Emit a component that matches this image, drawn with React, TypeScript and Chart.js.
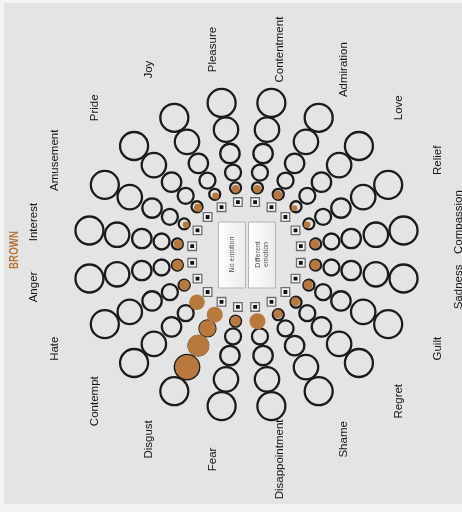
import React, { useEffect, useRef } from "react";
import { Chart, registerables } from "chart.js";

Chart.register(...registerables);

// ---- data ----
const emotions = [
  "Interest", "Amusement", "Pride", "Joy", "Pleasure", "Contentment", "Admiration", "Love", "Relief", "Compassion",
  "Sadness", "Guilt", "Regret", "Shame", "Disappointment", "Fear", "Disgust", "Contempt", "Hate", "Anger",
];
// spoke direction of each emotion, degrees counter-clockwise from the right
const spokeAngles = [171, 153, 135, 117, 99, 81, 63, 45, 27, 9, -9, -27, -45, -63, -81, -99, -117, -135, -153, -171];
// brown response bubbles (radius) per intensity level, innermost (1) to outermost (5)
const fillLevel1 = [4.6, 3.2, 4, 3.4, 4, 4, 4.5, 3, 3.3, 4.7, 5, 4.7, 4.5, 4.5, 8, 5.3, 8, 7.8, 5.2, 5.3];
const fillLevel2 = [0, 0, 0, 0, 0, 0, 0, 0, 0, 0, 0, 0, 0, 0, 0, 0, 8.3, 0, 0, 0];
const fillLevel3 = [0, 0, 0, 0, 0, 0, 0, 0, 0, 0, 0, 0, 0, 0, 0, 0, 10.8, 0, 0, 0];
const fillLevel4 = [0, 0, 0, 0, 0, 0, 0, 0, 0, 0, 0, 0, 0, 0, 0, 0, 12, 0, 0, 0];
const fillLevel5 = [0, 0, 0, 0, 0, 0, 0, 0, 0, 0, 0, 0, 0, 0, 0, 0, 0, 0, 0, 0];
const seriesName = "BROWN";
const centerOptions = ["No emotion", "Different\nemotion"];

// ---- layout / style constants ----
const W = 462;
const H = 512;
const CX = 246.5;
const CY = 254.5;
const YSCALE = 0.965;
const LEVEL_DIST = [70, 86, 106, 131, 159];
const RING_R = [5.5, 8, 9.7, 12.2, 14];
const RING_BW = 2.3;
const SQUARE_R = 6.1;
const SQUARE_BW = 1.3;
const SQUARE_DIST = 55;
const LABEL_DIST = 215;
const BROWN = "#b7793d";

const rad = (d: number) => (d * Math.PI) / 180;

// Chart.js insets the chart area by the largest bubble (radius + border); compensate
const allFills = [fillLevel1, fillLevel2, fillLevel3, fillLevel4, fillLevel5].flat();
const PAD = Math.max(Math.max(...RING_R) + RING_BW, Math.max(...allFills), SQUARE_R + SQUARE_BW);

const wheelPlugin = {
  id: "wheelDecor",
  beforeDraw(chart: any) {
    const { ctx, width, height } = chart;
    ctx.save();
    ctx.fillStyle = "#f3f3f3";
    ctx.fillRect(0, 0, width, height);
    ctx.fillStyle = "#e4e4e4";
    ctx.fillRect(4, 3, width - 4, height - 11);
    ctx.restore();
  },
  afterDatasetsDraw(chart: any) {
    const { ctx } = chart;
    const xs = chart.scales.x;
    const ys = chart.scales.y;
    const px = (v: number) => xs.getPixelForValue(v);
    const py = (v: number) => ys.getPixelForValue(v);

    // emotion labels
    emotions.forEach((name, i) => {
      const a = rad(spokeAngles[i]);
      const lx = px(LABEL_DIST * Math.cos(a));
      const ly = py(LABEL_DIST * Math.sin(a));
      ctx.save();
      ctx.translate(lx, ly);
      ctx.rotate(-Math.PI / 2);
      ctx.font = '11.5px "Liberation Sans", Arial, sans-serif';
      ctx.fillStyle = "#161616";
      ctx.textAlign = "center";
      ctx.textBaseline = "middle";
      ctx.fillText(name, 0, 0);
      ctx.restore();
    });

    // series name
    ctx.save();
    ctx.translate(px(-CX + 14.5), py(4.5 / YSCALE));
    ctx.rotate(-Math.PI / 2);
    ctx.scale(0.72, 1);
    ctx.font = 'bold 13.5px "Liberation Sans", Arial, sans-serif';
    ctx.fillStyle = "#bb7636";
    ctx.textAlign = "center";
    ctx.textBaseline = "middle";
    ctx.fillText(seriesName, 0, 0);
    ctx.restore();

    // center option boxes
    const cx = px(0);
    const cy = py(0);
    centerOptions.forEach((txt, i) => {
      const left = i === 0 ? cx - 28.5 : cx + 1.5;
      const top = cy - 33;
      const bw = 27;
      const bh = 66;
      ctx.save();
      const g = ctx.createLinearGradient(left, 0, left + bw, 0);
      g.addColorStop(0, "#ffffff");
      g.addColorStop(1, "#ececec");
      ctx.fillStyle = g;
      ctx.strokeStyle = "#b4b4b4";
      ctx.lineWidth = 1;
      ctx.beginPath();
      ctx.rect(left + 0.5, top + 0.5, bw, bh);
      ctx.fill();
      ctx.stroke();
      ctx.translate(left + bw / 2 + 0.5, top + bh / 2);
      ctx.rotate(-Math.PI / 2);
      ctx.font = '7px "Liberation Sans", Arial, sans-serif';
      ctx.fillStyle = "#555";
      ctx.textAlign = "center";
      ctx.textBaseline = "middle";
      const lines = txt.split("\n");
      lines.forEach((ln, k) => {
        ctx.fillText(ln, 0, (k - (lines.length - 1) / 2) * 8);
      });
      ctx.restore();
    });
  },
};

export default function App() {
  const ref = useRef<HTMLCanvasElement | null>(null);

  useEffect(() => {
    document.body.style.margin = "0";
    const canvas = ref.current;
    if (!canvas) return;

    const levels = [fillLevel1, fillLevel2, fillLevel3, fillLevel4, fillLevel5];

    const rings: any[] = [];
    const browns: any[] = [];
    const squares: any[] = [];
    emotions.forEach((_, i) => {
      const a = rad(spokeAngles[i]);
      const c = Math.cos(a);
      const s = Math.sin(a);
      squares.push({ x: SQUARE_DIST * c, y: SQUARE_DIST * s });
      LEVEL_DIST.forEach((d, l) => {
        rings.push({ x: d * c, y: d * s, r: RING_R[l] });
        const v = levels[l][i];
        if (v > 0) {
          const dd = d - Math.max(0, RING_R[l] - v) * 0.9;
          browns.push({ x: dd * c, y: dd * s, r: v });
        }
      });
    });

    const chart = new Chart(canvas, {
      type: "bubble",
      data: {
        datasets: [
          {
            label: seriesName,
            data: browns,
            backgroundColor: BROWN,
            borderWidth: 0,
          },
          {
            label: "center",
            data: squares.map((p) => ({ ...p, r: 2.7 })),
            pointStyle: "rect",
            backgroundColor: "#111",
            borderWidth: 0,
          } as any,
          {
            label: "frame",
            data: squares.map((p) => ({ ...p, r: SQUARE_R })),
            pointStyle: "rect",
            backgroundColor: "#f6f6f6",
            borderColor: "#6e6e6e",
            borderWidth: SQUARE_BW,
          } as any,
          {
            label: "rings",
            data: rings,
            backgroundColor: "rgba(0,0,0,0)",
            borderColor: "#1b1b1b",
            borderWidth: RING_BW,
          },
        ],
      },
      options: {
        animation: false,
        responsive: false,
        events: [],
        layout: { padding: 0 },
        plugins: {
          legend: { display: false },
          tooltip: { enabled: false },
        },
        scales: {
          x: { type: "linear", display: false, min: -(CX - PAD), max: W - PAD - CX },
          y: { type: "linear", display: false, min: -(H - PAD - CY) / YSCALE, max: (CY - PAD) / YSCALE },
        },
      },
      plugins: [wheelPlugin],
    });

    return () => chart.destroy();
  }, []);

  return (
    <div style={{ width: W, height: H }}>
      <canvas ref={ref} width={W} height={H} style={{ display: "block" }} />
    </div>
  );
}
